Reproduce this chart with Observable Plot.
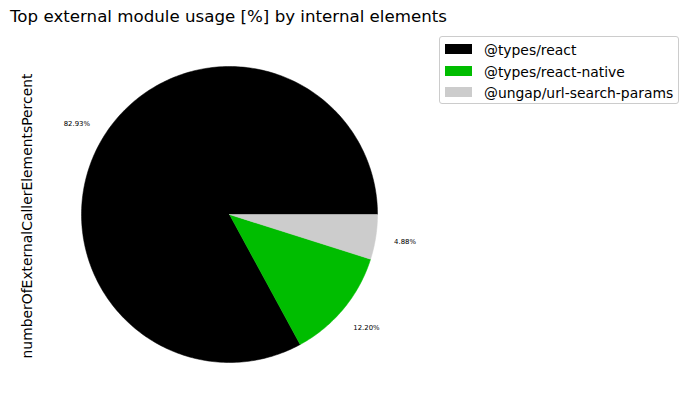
<!DOCTYPE html>
<html><head><meta charset="utf-8">
<script src="https://cdn.jsdelivr.net/npm/d3@7"></script>
<script src="https://cdn.jsdelivr.net/npm/@observablehq/plot@0.6"></script>
<style>
body{margin:0;background:#fff;font-family:"DejaVu Sans",sans-serif;}
#wrap{position:relative;width:688px;height:409px;overflow:hidden;}
#wrap svg{position:absolute;left:0;top:0;}
#title{position:absolute;left:0;width:457px;top:7px;text-align:center;font-size:16.67px;line-height:19px;color:#000;white-space:nowrap;}
#ylab{position:absolute;left:27px;top:216px;transform:translate(-50%,-50%) rotate(-90deg);font-size:13.9px;line-height:16px;white-space:nowrap;color:#000;}
#legend{position:absolute;left:439px;top:36px;width:238px;height:66px;border:1px solid #ccc;border-radius:3px;background:#fff;}
.row{position:absolute;left:5px;height:16px;font-size:13.9px;line-height:16px;white-space:nowrap;}
.sw{position:absolute;left:0;top:2px;width:27px;height:10px;}
.lt{position:absolute;left:39px;top:0;}
</style></head>
<body>
<div id="wrap">
<div id="title">Top external module usage [%] by internal elements</div>
<div id="ylab">numberOfExternalCallerElementsPercent</div>
<div id="legend"></div>
</div>
<script>
const categories = ["@types/react", "@types/react-native", "@ungap/url-search-params"];
const percents = [82.93, 12.20, 4.88];
const colors = ["#000000", "#00bd00", "#cccccc"];
const yLabel = "numberOfExternalCallerElementsPercent";

const total = d3.sum(percents);
const pts = [];
const labels = [];
let acc = 0;
categories.forEach((name, i) => {
  const a0 = acc / total * 2 * Math.PI;
  acc += percents[i];
  const a1 = acc / total * 2 * Math.PI;
  const n = Math.max(4, Math.ceil((a1 - a0) / (Math.PI / 180)));
  pts.push({name, x: 0, y: 0});
  for (let k = 0; k <= n; k++) {
    const a = a0 + (a1 - a0) * k / n;
    pts.push({name, x: Math.cos(a), y: Math.sin(a)});
  }
  pts.push({name, x: 0, y: 0});
  const am = (a0 + a1) / 2;
  labels.push({x: 1.2 * Math.cos(am), y: 1.2 * Math.sin(am), t: percents[i].toFixed(2) + "%"});
});

const chart = Plot.plot({
  width: 688, height: 409,
  marginLeft: 81, marginRight: 311, marginTop: 66, marginBottom: 47,
  style: {fontFamily: "DejaVu Sans", background: "transparent"},
  x: {domain: [-1, 1], axis: null},
  y: {domain: [-1, 1], axis: null},
  color: {domain: categories, range: colors},
  marks: [
    Plot.line(pts, {x: "x", y: "y", z: "name", fill: "name", stroke: "name", strokeWidth: 0.5, curve: "linear"}),
    Plot.text(labels, {x: "x", y: "y", text: "t", fontSize: 6.9, fill: "#000"})
  ]
});
document.getElementById("wrap").prepend(chart);

const leg = document.getElementById("legend");
categories.forEach((c, i) => {
  const r = document.createElement("div");
  r.className = "row";
  r.style.top = (5 + i * 21.5) + "px";
  r.innerHTML = `<span class="sw" style="background:${colors[i]}"></span><span class="lt"></span>`;
  r.querySelector(".lt").textContent = c;
  leg.appendChild(r);
});
document.getElementById("ylab").textContent = yLabel;
</script>
</body></html>
